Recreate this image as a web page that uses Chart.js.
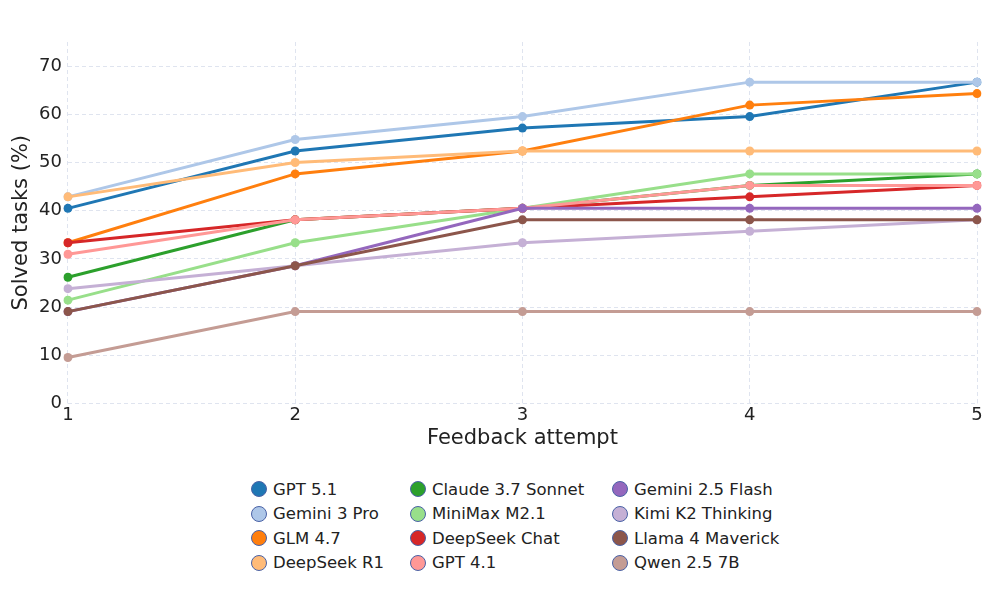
<!DOCTYPE html>
<html>
<head>
<meta charset="utf-8">
<script src="https://cdn.jsdelivr.net/npm/chart.js@4.4.1/dist/chart.umd.min.js"></script>
<style>
  html, body { margin: 0; padding: 0; background: #fff; }
  body { width: 994px; height: 598px; position: relative; overflow: hidden;
         font-family: 'DejaVu Sans', sans-serif; }
  #wrap { position: absolute; left: 0; top: 0; width: 994px; height: 449px; }
  #legend { position: absolute; left: 251px; top: 477px;
            display: grid; grid-template-columns: 159px 202px auto;
            grid-auto-flow: column; grid-template-rows: repeat(4, 24.5px);
            font-size: 16.5px; color: #222; }
  .item { display: flex; align-items: center; white-space: nowrap; }
  .dot { width: 16px; height: 16px; border-radius: 50%; box-sizing: border-box;
         border: 1.5px solid #4a62a6; margin-right: 6px; flex: none; }
</style>
</head>
<body>
<div id="wrap"><canvas id="chart"></canvas></div>
<div id="legend"></div>
<script>
(function () {
  'use strict';

  const attempts = ['1', '2', '3', '4', '5'];

  const gpt51        = [40.48, 52.38, 57.14, 59.52, 66.67];
  const gemini3Pro   = [42.86, 54.76, 59.52, 66.67, 66.67];
  const glm47        = [33.33, 47.62, 52.38, 61.90, 64.29];
  const deepseekR1   = [42.86, 50.00, 52.38, 52.38, 52.38];
  const claude37     = [26.19, 38.10, 40.48, 45.24, 47.62];
  const minimaxM21   = [21.43, 33.33, 40.48, 47.62, 47.62];
  const deepseekChat = [33.33, 38.10, 40.48, 42.86, 45.24];
  const gpt41        = [30.95, 38.10, 40.48, 45.24, 45.24];
  const gemini25     = [19.05, 28.57, 40.48, 40.48, 40.48];
  const kimiK2       = [23.81, 28.57, 33.33, 35.71, 38.10];
  const llama4       = [19.05, 28.57, 38.10, 38.10, 38.10];
  const qwen25       = [9.52, 19.05, 19.05, 19.05, 19.05];

  const series = [
    ['GPT 5.1', gpt51, '#1f77b4'],
    ['Gemini 3 Pro', gemini3Pro, '#aec7e8'],
    ['GLM 4.7', glm47, '#ff7f0e'],
    ['DeepSeek R1', deepseekR1, '#ffbb78'],
    ['Claude 3.7 Sonnet', claude37, '#2ca02c'],
    ['MiniMax M2.1', minimaxM21, '#98df8a'],
    ['DeepSeek Chat', deepseekChat, '#d62728'],
    ['GPT 4.1', gpt41, '#ff9896'],
    ['Gemini 2.5 Flash', gemini25, '#9467bd'],
    ['Kimi K2 Thinking', kimiK2, '#c5b0d5'],
    ['Llama 4 Maverick', llama4, '#8c564b'],
    ['Qwen 2.5 7B', qwen25, '#c49c94']
  ];

  const FONT = "'DejaVu Sans', sans-serif";
  const GRID = '#dfe4ef';

  const datasets = series.map(function (s, i) {
    return {
      label: s[0],
      data: s[1],
      borderColor: s[2],
      backgroundColor: s[2],
      pointBackgroundColor: s[2],
      pointBorderColor: s[2],
      borderWidth: 3,
      pointRadius: 4.5,
      pointBorderWidth: 0,
      tension: 0,
      // later series painted on top, like the source plot
      order: series.length - i
    };
  });

  new Chart(document.getElementById('chart'), {
    type: 'line',
    data: { labels: attempts, datasets: datasets },
    options: {
      responsive: true,
      maintainAspectRatio: false,
      animation: false,
      layout: { padding: { top: 42, right: 17, left: 8, bottom: 0 } },
      plugins: { legend: { display: false }, tooltip: { enabled: false } },
      scales: {
        x: {
          offset: false,
          grid: { color: GRID, tickLength: 0 },
          border: { display: false, dash: [4, 3] },
          ticks: { font: { family: FONT, size: 18 }, color: '#222', padding: 1.5, maxRotation: 0 },
          title: { display: true, text: 'Feedback attempt',
                   font: { family: FONT, size: 21, lineHeight: 1 }, color: '#222',
                   padding: { top: 0, bottom: 0 } }
        },
        y: {
          min: 0,
          max: 75,
          grid: { color: GRID, tickLength: 0 },
          border: { display: false, dash: [4, 3] },
          ticks: { stepSize: 10, includeBounds: false,
                   font: { family: FONT, size: 18 }, color: '#222', padding: 6 },
          title: { display: true, text: 'Solved tasks (%)',
                   font: { family: FONT, size: 21, lineHeight: 1 }, color: '#222',
                   padding: { top: 3, bottom: 1 } }
        }
      }
    }
  });

  // legend laid out in columns, as in the source figure
  const legend = document.getElementById('legend');
  series.forEach(function (s) {
    const item = document.createElement('div');
    item.className = 'item';
    const dot = document.createElement('span');
    dot.className = 'dot';
    dot.style.background = s[2];
    const txt = document.createElement('span');
    txt.textContent = s[0];
    item.appendChild(dot);
    item.appendChild(txt);
    legend.appendChild(item);
  });
})();
</script>
</body>
</html>
